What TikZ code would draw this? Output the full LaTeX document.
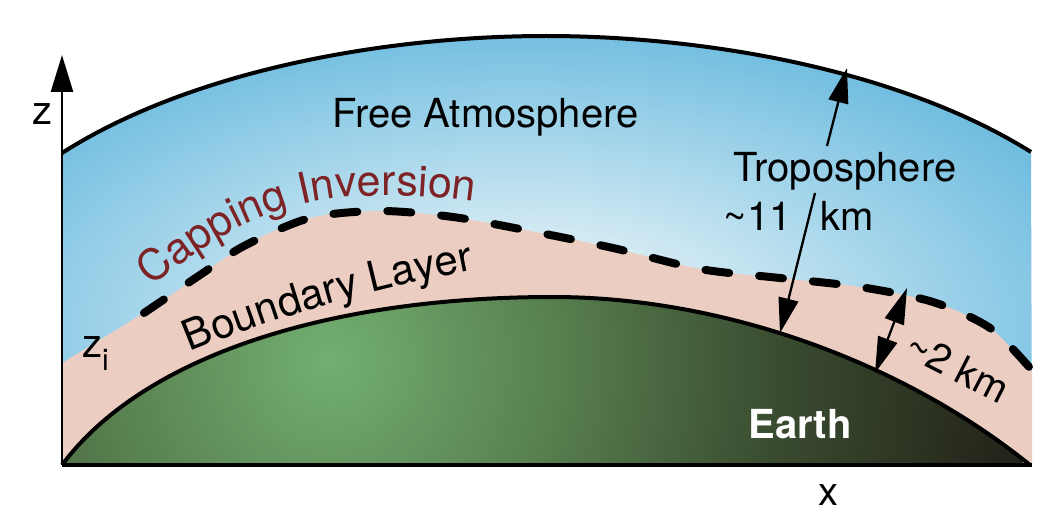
\documentclass[tikz,border=0pt]{standalone}
\usepackage{fontspec}
\setmainfont{TeX Gyre Heros}
\usetikzlibrary{arrows.meta,decorations.text}
\definecolor{skyblue}{RGB}{96,182,221}
\definecolor{skylight}{RGB}{224,240,246}
\definecolor{blpink}{RGB}{236,205,194}
\definecolor{capred}{RGB}{125,35,38}
\definecolor{eg1}{RGB}{114,175,112}
\definecolor{eg2}{RGB}{88,128,80}
\definecolor{eg3}{RGB}{58,76,48}
\definecolor{eg4}{RGB}{34,33,24}
\pgfdeclareradialshading{earthshade}{\pgfpoint{0bp}{0bp}}{color(0bp)=(eg1); color(8bp)=(eg2); color(16bp)=(eg3); color(25bp)=(eg4); color(50bp)=(eg4)}
\pgfdeclareradialshading{skyshade}{\pgfpoint{0bp}{0bp}}{color(0bp)=(skylight); color(5bp)=(skylight); color(25bp)=(skyblue); color(50bp)=(skyblue)}
\begin{document}
\begin{tikzpicture}[x=1pt,y=-1pt,
  lbl/.style={font=\fontsize{40}{48}\selectfont, inner sep=0pt},
  arr/.style={line width=2.3pt, -{Triangle[length=35pt,width=20pt]}},
  darr/.style={line width=2.3pt, {Triangle[length=36pt,width=20pt]}-{Triangle[length=36pt,width=20pt]}},
  edge/.style={line width=4pt, line join=round}]
\useasboundingbox (0,0) rectangle (1058,524);
% sky
\begin{scope}
\clip (62,465) -- (62,153) .. controls (192,70) and (386,36) .. (546,36) .. controls (706,36) and (900,70) .. (1031,152) -- (1032,465) -- cycle;
\shade[shading=skyshade] (520,330) ellipse [x radius=680, y radius=340];
\end{scope}
% boundary layer
\fill[blpink] (62,465) -- plot[smooth] coordinates {(62,363) (153,307) (244,246) (310,218) (380,211) (453,217) (530,231) (613,248) (700,269) (780,278) (860,287) (933,302) (990,328) (1032,372)} -- (1032,465) -- cycle;
% earth
\begin{scope}
\clip (62,465) .. controls (140,360) and (320,297) .. (553,297) .. controls (720,297) and (900,360) .. (1030,465) -- cycle;
\shade[shading=earthshade] (330,360) circle (700);
\end{scope}
\draw[edge] (62,465) .. controls (140,360) and (320,297) .. (553,297) .. controls (720,297) and (900,360) .. (1030,465);
% top of troposphere
\draw[edge] (62,153) .. controls (192,70) and (386,36) .. (546,36) .. controls (706,36) and (900,70) .. (1031,152);
% capping inversion
\draw[line width=8pt, line cap=round, dash pattern=on 24pt off 30pt] plot[smooth] coordinates {(144,313) (200,275) (244,246) (310,218) (380,211) (453,217) (530,231) (613,248) (700,269) (780,278) (860,287) (933,302) (990,328) (1030,368)};
% ground line and axis
\coordinate (o) at (62,465);
\coordinate (xe) at (1032,465);
\coordinate (ze) at (62,55);
\draw[line width=3.5pt] (o) -- (xe);
\draw[line width=2.6pt, -{Triangle[length=37pt,width=22pt]}] (o) -- (ze);
% labels
\node[lbl, anchor=base] (z) at (42.5,125) {z};
\node[lbl, anchor=base] (x) at (828,505) {x};
\node[lbl, anchor=base west] (zi) at (82,357) {z\raisebox{-13pt}{\fontsize{30}{36}\selectfont i}};
\node[lbl, anchor=base west] (fa) at (332,128) {Free Atmosphere};
\node[lbl, anchor=base] (tropo) at (845,182) {Troposphere};
\node[lbl, anchor=base east] (eleven) at (792,230) {\textasciitilde11};
\node[lbl, anchor=base west] (km) at (820,230) {km};
\node[lbl, anchor=base, text=white, font=\fontsize{40}{48}\selectfont\bfseries] (earth) at (800,438) {Earth};
\node[lbl, rotate=-27] (two) at (958,367) {\textasciitilde2 km};
\path[decorate, decoration={text along path, text color=capred, text={|\fontsize{43}{50}\selectfont|Capping Inversion}}]
  (152,287) .. controls (212,236) and (272,203) .. (347,197) .. controls (412,192) and (462,198) .. (580,218);
\path[decorate, decoration={text along path, text={|\fontsize{42}{50}\selectfont|Boundary Layer}}]
  (190,352) .. controls (280,315) and (380,285) .. (540,258);
% arrows
\coordinate (tu1) at (827,146); \coordinate (tu2) at (847,68);
\coordinate (td1) at (815,193); \coordinate (td2) at (780,333);
\coordinate (b1) at (875,373); \coordinate (b2) at (907,288);
\draw[arr] (tu1) -- (tu2);
\draw[arr] (td1) -- (td2);
\draw[darr] (b1) -- (b2);
\end{tikzpicture}
\end{document}
